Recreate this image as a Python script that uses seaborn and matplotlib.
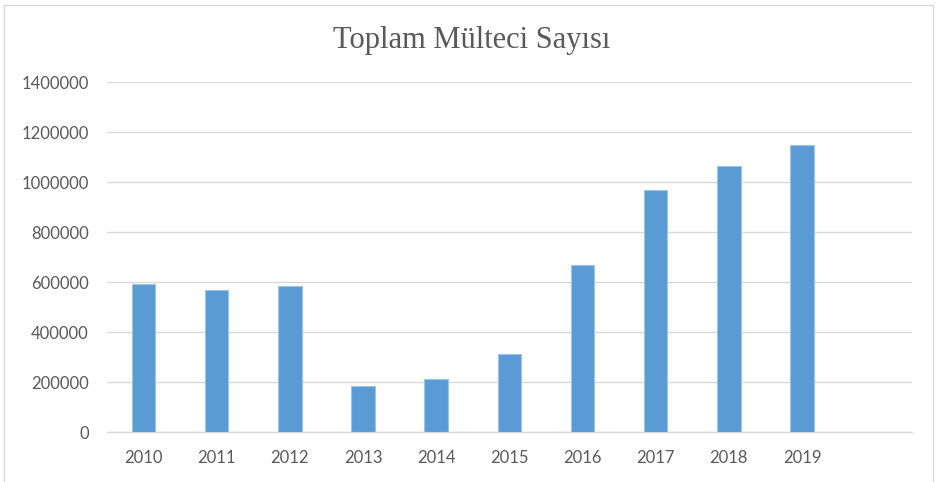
import numpy as np
import pandas as pd
import seaborn as sns
import matplotlib.pyplot as plt
from matplotlib.patches import Rectangle

years = ['2010', '2011', '2012', '2013', '2014', '2015', '2016', '2017', '2018', '2019']
refugees = [592000, 570000, 586000, 186000, 212000, 312000, 670000, 969000, 1064000, 1148000]
y_ticks = [0, 200000, 400000, 600000, 800000, 1000000, 1200000, 1400000]

df = pd.DataFrame({'year': years, 'count': refugees})

sns.set_style('white')
plt.rcParams['font.family'] = ['Lato', 'DejaVu Sans']

fig = plt.figure(figsize=(9.37, 4.82), dpi=100)
ax = fig.add_axes([0.1142, 0.1031, 0.8588, 0.7262])

sns.barplot(data=df, x='year', y='count', color='#5B9BD5', width=0.32,
            edgecolor='#9DC3E6', linewidth=0.8, saturation=1, ax=ax, zorder=3)

ax.set_xlim(-0.5, 10.5)
ax.set_ylim(0, 1400000)
ax.set_yticks(y_ticks)
ax.set_yticklabels([str(v) for v in y_ticks])
ax.yaxis.grid(True, color='#D9D9D9', linewidth=1, zorder=0)
ax.set_axisbelow(True)
for s in ['top', 'right', 'left']:
    ax.spines[s].set_visible(False)
ax.spines['bottom'].set_color('#D9D9D9')
ax.spines['bottom'].set_linewidth(1)
ax.tick_params(axis='both', length=0, labelsize=12, colors='#595959')
ax.tick_params(axis='y', pad=13)
ax.tick_params(axis='x', pad=13)
ax.set_xlabel('')
ax.set_ylabel('')

fig.text(0.503, 0.915, 'Toplam Mülteci Sayısı', ha='center', va='center',
         fontsize=22, color='#595959', family=['Liberation Serif', 'DejaVu Serif'])

fig.patches.append(Rectangle((0.004, -0.05), 0.992, 1.04, transform=fig.transFigure,
                             fill=False, edgecolor='#D9D9D9', linewidth=1))

fig.savefig('out.png', dpi=100)
